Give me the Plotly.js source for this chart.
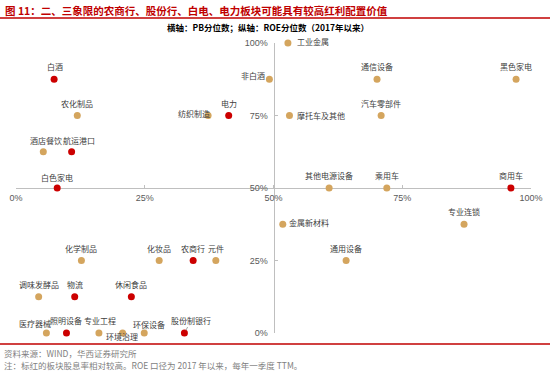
<!DOCTYPE html>
<html><head><meta charset="utf-8">
<script src="https://cdn.plot.ly/plotly-3.0.1.min.js"></script>
<style>html,body{margin:0;padding:0;background:#fff}#chart{width:550px;height:372px}</style>
</head><body><div id="chart"></div>
<script>
// ---- data ----
const sectors = ['白酒','非白酒','农化制品','纺织制造','电力','酒店餐饮','航运港口','白色家电',
  '工业金属','通信设备','黑色家电','摩托车及其他','汽车零部件','其他电源设备','乘用车','商用车',
  '金属新材料','专业连锁','通用设备','化学制品','化妆品','农商行','元件',
  '调味发酵品','物流','休闲食品','医疗器械','照明设备','专业工程','环境治理','环保设备','股份制银行'];
const pbPct = [7.4, 49.2, 11.9, 37.3, 41.3, 5.3, 10.8, 8.0,
  52.8, 70.1, 97.1, 53.1, 70.9, 60.8, 72.0, 96.1,
  51.8, 87.0, 64.1, 12.7, 27.8, 34.4, 38.8,
  4.4, 11.4, 22.4, 5.9, 9.8, 16.1, 20.7, 24.9, 32.7];
const roePct = [87.5, 87.5, 75, 75, 75, 62.5, 62.5, 50,
  100, 87.5, 87.5, 75, 75, 50, 50, 50,
  37.5, 37.5, 25, 25, 25, 25, 25,
  12.5, 12.5, 12.5, 0, 0, 0, 0, 0, 0];
const highDividend = ['白酒','电力','航运港口','白色家电','商用车','农商行','物流','休闲食品','照明设备','股份制银行'];
const tickVals = [0, 25, 50, 75, 100];
const tickText = ['0%', '25%', '50%', '75%', '100%'];
const titleText = '图 11：二、三象限的农商行、股份行、白电、电力板块可能具有较高红利配置价值';
const subtitleText = '横轴：PB分位数；纵轴：ROE分位数（2017年以来）';
const sourceText = '资料来源：WIND，华西证券研究所';
const noteText = '注：标红的板块股息率相对较高。ROE 口径为 2017 年以来，每年一季度 TTM。';

// ---- label placement (anchor, dx px, dy px; screen coords) ----
const labelPlace = {
  '白酒': ['center', 1, -13], '非白酒': ['right', -2, -4], '纺织制造': ['right', 4, -2],
  '酒店餐饮': ['center', 3, -11], '航运港口': ['center', 7, -11], '白色家电': ['center', 0, -11],
  '工业金属': ['left', 7, -1.5], '摩托车及其他': ['left', 6, 0], '金属新材料': ['left', 4, -2],
  '医疗器械': ['center', -11, -10], '照明设备': ['center', 0, -13], '专业工程': ['center', 1, -13],
  '环境治理': ['center', -1, 3.5], '环保设备': ['center', 5, -9]
};
const arrowLabels = {'股份制银行': [7, -13]};

const RED = '#CC0000', TAN = '#D4A55E';
const cjk = '"Noto Sans CJK SC", sans-serif';
const latin = '"Liberation Sans", Arial, sans-serif';

const colors = sectors.map(s => highDividend.includes(s) ? RED : TAN);

const trace = {
  type: 'scatter', mode: 'markers', x: pbPct, y: roePct, text: sectors,
  marker: {color: colors, size: 7}, cliponaxis: false, hoverinfo: 'skip'
};

// pixel -> paper helpers for page furniture
const L = 16, R = 19, T = 43, B = 39, W = 550, H = 372;
const pw = W - L - R, ph = H - T - B;
const px = v => (v - L) / pw;
const py = v => (H - B - v) / ph;

const annotations = [];
sectors.forEach((s, i) => {
  if (arrowLabels[s]) {
    const [ax, ay] = arrowLabels[s];
    annotations.push({x: pbPct[i], y: roePct[i], xref: 'x', yref: 'y', text: s, showarrow: true,
      arrowhead: 0, arrowwidth: 0.7, arrowcolor: '#808080', ax: ax, ay: ay, standoff: 3,
      font: {family: cjk, size: 8, color: '#404040'}});
    return;
  }
  const p = labelPlace[s] || ['center', 0, -12.5];
  annotations.push({x: pbPct[i], y: roePct[i], xref: 'x', yref: 'y', text: s, showarrow: false,
    xanchor: p[0], yanchor: 'middle', xshift: p[1], yshift: -p[2],
    font: {family: cjk, size: 8, color: '#404040'}});
});
annotations.push({xref: 'paper', yref: 'paper', x: px(3), y: py(10), xanchor: 'left', yanchor: 'middle',
  text: '<b>' + titleText + '</b>', showarrow: false, font: {family: cjk, size: 10.5, color: '#C00000'}});
annotations.push({xref: 'paper', yref: 'paper', x: px(268), y: py(27), xanchor: 'center', yanchor: 'middle',
  text: '<b>' + subtitleText + '</b>', showarrow: false, font: {family: cjk, size: 8.5, color: '#000000'}});
annotations.push({xref: 'paper', yref: 'paper', x: px(2), y: py(352.5), xanchor: 'left', yanchor: 'middle',
  text: sourceText, showarrow: false, font: {family: cjk, size: 8.5, color: '#7F7F7F'}});
annotations.push({xref: 'paper', yref: 'paper', x: px(2), y: py(364.5), xanchor: 'left', yanchor: 'middle',
  text: noteText, showarrow: false, font: {family: cjk, size: 8.5, color: '#7F7F7F'}});

const shapes = [
  {type: 'line', xref: 'paper', yref: 'paper', x0: px(0), x1: px(550), y0: py(18), y1: py(18),
    line: {color: '#C00000', width: 1.5}},
  {type: 'line', xref: 'paper', yref: 'paper', x0: px(0), x1: px(550), y0: py(344), y1: py(344),
    line: {color: '#C00000', width: 1.5}}
];

const axisCommon = {
  range: [0, 100], anchor: 'free', position: 0.5, showgrid: false, zeroline: false,
  showline: true, linecolor: '#BFBFBF', linewidth: 1, ticks: 'inside', ticklen: 3, tickcolor: '#BFBFBF',
  tickvals: tickVals, ticktext: tickText, tickfont: {family: latin, size: 9, color: '#595959'},
  layer: 'below traces', fixedrange: true
};

const layout = {
  width: W, height: H, margin: {l: L, r: R, t: T, b: B},
  paper_bgcolor: '#fff', plot_bgcolor: '#fff', showlegend: false,
  xaxis: Object.assign({}, axisCommon, {domain: [0, 1], ticklabelstandoff: 1}),
  yaxis: Object.assign({}, axisCommon, {domain: [0, 1], ticklabelstandoff: 4}),
  annotations: annotations, shapes: shapes
};

Plotly.newPlot('chart', [trace], layout, {staticPlot: true, displayModeBar: false});
</script>
</body></html>
